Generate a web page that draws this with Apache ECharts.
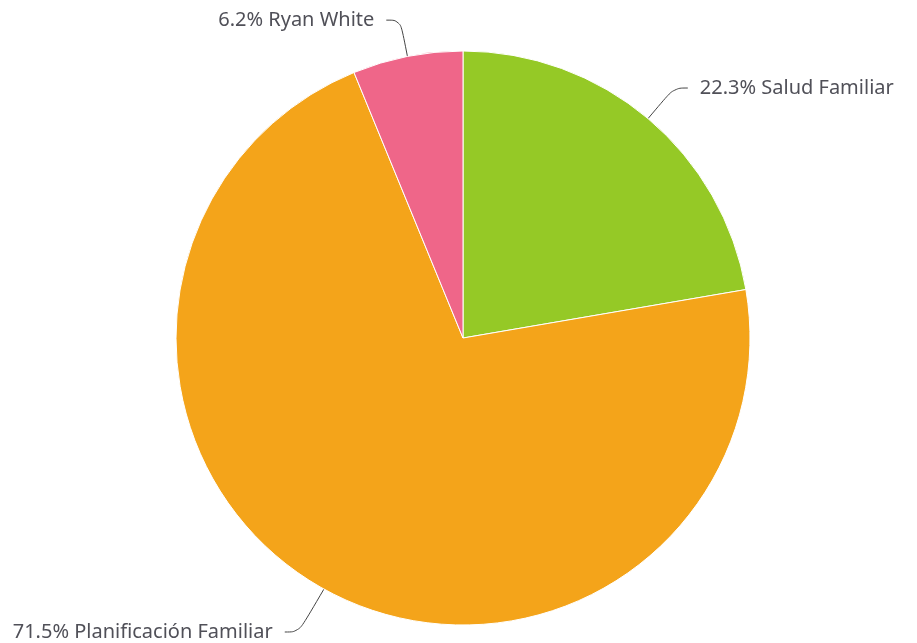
<!DOCTYPE html>
<html><head><meta charset="utf-8">
<script src="https://cdn.jsdelivr.net/npm/echarts@6/dist/echarts.min.js"></script>
<style>html,body{margin:0;padding:0;background:#fff}#c{width:917px;height:643px}</style>
</head><body><div id="c"></div>
<script>
const categories = ['Salud Familiar', 'Planificación Familiar', 'Ryan White'];
const values = [22.3, 71.5, 6.2];
const colors = ['#95c926', '#f4a41a', '#ef6689'];
const lineLengths = [40, 52, 37];
const chart = echarts.init(document.getElementById('c'));
chart.setOption({
  animation: false,
  series: [{
    type: 'pie',
    center: [463, 338],
    radius: [0, 287],
    startAngle: 90,
    clockwise: true,
    data: categories.map((n, i) => ({
      name: n, value: values[i], itemStyle: {color: colors[i]},
      labelLine: {length: lineLengths[i]}
    })),
    itemStyle: {borderColor: '#fff', borderWidth: 1},
    label: {
      formatter: p => p.value + '% ' + p.name,
      color: '#505058',
      fontSize: 20,
      fontFamily: 'Noto Sans',
      distanceToLabelLine: 12
    },
    labelLine: {length2: 14, smooth: 0.4, lineStyle: {color: '#444', width: 1}}
  }]
});
</script></body></html>
